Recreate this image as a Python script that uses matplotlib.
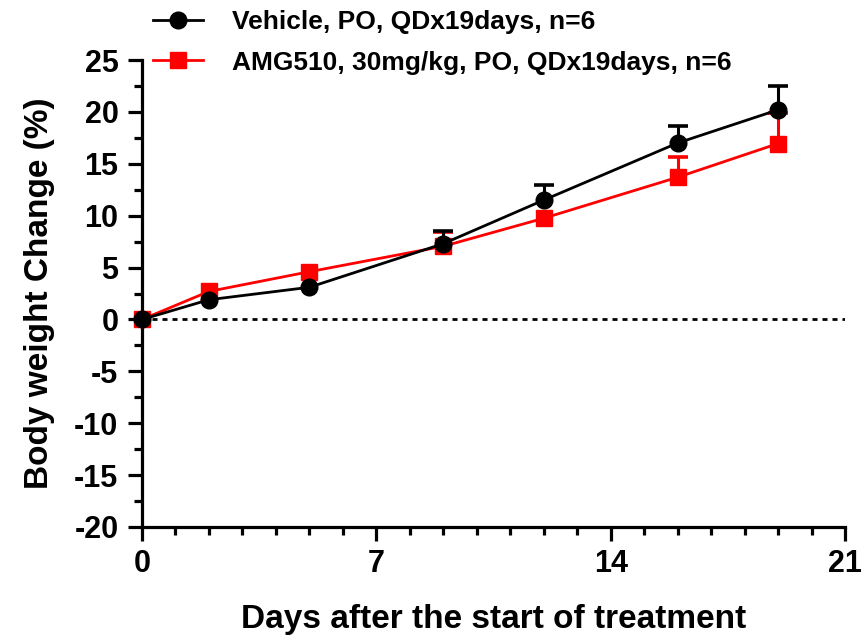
import matplotlib
matplotlib.use('Agg')
import matplotlib.pyplot as plt
import numpy as np
from matplotlib.ticker import MultipleLocator

plt.rcParams['font.family'] = ['Liberation Sans', 'DejaVu Sans']
plt.rcParams['font.weight'] = 'bold'
plt.rcParams['axes.unicode_minus'] = False

days = [0, 2, 5, 9, 12, 16, 19]
vehicle_mean = [0, 1.9, 3.1, 7.3, 11.5, 17.0, 20.2]
vehicle_sem = [0, 0, 0, 1.2, 1.45, 1.6, 2.3]
amg_mean = [0, 2.7, 4.6, 7.05, 9.75, 13.7, 16.95]
amg_sem = [0, 0, 0, 1.35, 0, 2.0, 2.9]
vehicle_label = 'Vehicle, PO, QDx19days, n=6'
amg_label = 'AMG510, 30mg/kg, PO, QDx19days, n=6'

fig = plt.figure(figsize=(8.61, 6.38), dpi=100)
ax = fig.add_axes([142/861, 1-527/638, (845-142)/861, (527-60)/638])

# zero reference line
ax.plot([0, 21], [0, 0], color='black', lw=2, linestyle=(0, (1.8, 1.8)), zorder=1)


def draw_series(mean, sem, color, marker, ms, z):
    x = np.array(days)
    m = np.array(mean)
    e = np.array(sem)
    # upper-only error bars, caps only where there is an error
    ax.errorbar(x, m, yerr=[np.zeros_like(e), e], fmt='none', ecolor=color,
                elinewidth=2.2, capsize=0, clip_on=False, zorder=z)
    has = e > 0
    ax.plot(x[has], (m + e)[has], linestyle='none', marker='_', markersize=15,
            markeredgewidth=2.6, color=color, clip_on=False, zorder=z)
    line, = ax.plot(x, m, color=color, lw=2, marker=marker, markersize=ms,
                    clip_on=False, zorder=z + 0.5)
    return line


# red drawn first so black sits on top
amg = draw_series(amg_mean, amg_sem, 'red', 's', 11, 3)
veh = draw_series(vehicle_mean, vehicle_sem, 'black', 'o', 12, 5)

ax.set_xlim(0, 21)
ax.set_ylim(-20, 25)
ax.xaxis.set_major_locator(MultipleLocator(7))
ax.xaxis.set_minor_locator(MultipleLocator(1))
ax.yaxis.set_major_locator(MultipleLocator(5))
ax.yaxis.set_minor_locator(MultipleLocator(2.5))

for s in ['top', 'right']:
    ax.spines[s].set_visible(False)
for s in ['left', 'bottom']:
    ax.spines[s].set_linewidth(2.3)
ax.tick_params(which='major', length=10, width=2.3, labelsize=22, pad=6)
ax.tick_params(axis='y', which='major', pad=7)
ax.tick_params(which='minor', length=6, width=2.3)
for lab in ax.get_xticklabels() + ax.get_yticklabels():
    lab.set_fontweight('bold')

ax.set_xlabel('Days after the start of treatment', fontsize=24, fontweight='bold', labelpad=18)
ax.set_ylabel('Body weight Change (%)', fontsize=24, fontweight='bold', labelpad=14)

fig.legend([veh, amg], [vehicle_label, amg_label], loc='upper left',
           bbox_to_anchor=(140/861, 1+3/638), frameon=False, borderpad=0,
           handlelength=1.9, handletextpad=1.1, labelspacing=0.62,
           prop={'weight': 'bold', 'size': 19})

fig.savefig('out.png', dpi=100)
